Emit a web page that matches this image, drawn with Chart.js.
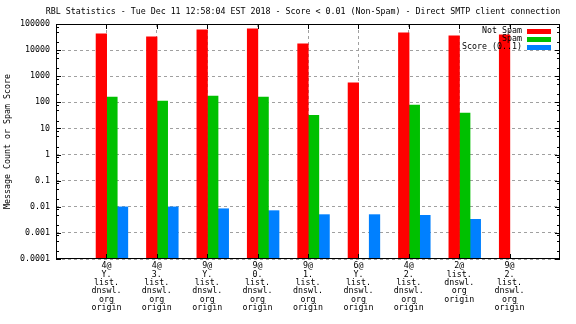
<!DOCTYPE html>
<html>
<head>
<meta charset="utf-8">
<script src="https://cdn.jsdelivr.net/npm/chart.js@4.4.0/dist/chart.umd.min.js"></script>
<style>
  html, body { margin: 0; padding: 0; background: #fff; }
  canvas { display: block; }
</style>
</head>
<body>
<canvas id="rblChart" width="576" height="324"></canvas>
<script>
// chart data
const titleText = "RBL Statistics - Tue Dec 11 12:58:04 EST 2018 - Score < 0.01 (Non-Spam) - Direct SMTP client connection";
const yAxisLabel = "Message Count or Spam Score";
const seriesNames = ["Not Spam", "Spam", "Score (0..1)"];

const categories = [
  ["4@", "Y.", "list.", "dnswl.", "org", "origin"],
  ["4@", "3.", "list.", "dnswl.", "org", "origin"],
  ["9@", "Y.", "list.", "dnswl.", "org", "origin"],
  ["9@", "0.", "list.", "dnswl.", "org", "origin"],
  ["9@", "1.", "list.", "dnswl.", "org", "origin"],
  ["6@", "Y.", "list.", "dnswl.", "org", "origin"],
  ["4@", "2.", "list.", "dnswl.", "org", "origin"],
  ["2@", "list.", "dnswl.", "org", "origin"],
  ["9@", "2.", "list.", "dnswl.", "org", "origin"]
];

const notSpam = [42100, 32300, 60000, 65500, 17400, 553, 46000, 35300, 38600];
const spam    = [160, 112, 174, 160, 32, null, 79, 39, null];
const score   = [0.0099, 0.0099, 0.0084, 0.0071, 0.0050, 0.0050, 0.0047, 0.0033, null];

const yTicks = [0.0001, 0.001, 0.01, 0.1, 1, 10, 100, 1000, 10000, 100000];
const yTickLabels = ["0.0001", "0.001", "0.01", "0.1", "1", "10", "100", "1000", "10000", "100000"];
const minorSteps = [2, 5, 8];

// look
const FONT = "'DejaVu Sans Mono', monospace";
const FSIZE = 8.3;
const colors = ["#ff0000", "#00c000", "#0080ff"];
const barOffsets = [-0.1, 0.11, 0.32];
const gridGray = "#a0a0a0";

const series = [notSpam, spam, score];

const datasets = series.map((vals, s) => ({
  label: seriesNames[s],
  data: vals.map((v, i) => ({ x: i + 1 + barOffsets[s], y: v })),
  backgroundColor: colors[s],
  borderWidth: 0,
  barThickness: 10.6,
  grouped: false
}));

// title, frame, inward ticks and the key, gnuplot style
const gnuplotDecor = {
  id: "gnuplotDecor",
  beforeDraw(chart) {
    const ctx = chart.ctx;
    const a = chart.chartArea;
    ctx.save();
    ctx.fillStyle = "#000";
    ctx.font = FSIZE + "px " + FONT;
    ctx.textAlign = "center";
    ctx.textBaseline = "middle";
    ctx.fillText(titleText, (a.left + a.right) / 2 - 5, 12);
    ctx.restore();
  },
  afterDatasetsDraw(chart) {
    const ctx = chart.ctx;
    const a = chart.chartArea;
    const xs = chart.scales.x, ys = chart.scales.y;
    ctx.save();
    ctx.strokeStyle = "#000";
    ctx.lineWidth = 1;
    ctx.beginPath();
    // category ticks, top and bottom
    for (let i = 1; i <= categories.length; i++) {
      const px = Math.round(xs.getPixelForValue(i)) + 0.5;
      ctx.moveTo(px, a.top); ctx.lineTo(px, a.top + 5);
      ctx.moveTo(px, a.bottom); ctx.lineTo(px, a.bottom - 5);
    }
    // log ticks, left and right
    yTicks.forEach((t, k) => {
      const py = Math.round(ys.getPixelForValue(t)) + 0.5;
      ctx.moveTo(a.left, py); ctx.lineTo(a.left + 5, py);
      ctx.moveTo(a.right, py); ctx.lineTo(a.right - 5, py);
      if (k < yTicks.length - 1) {
        minorSteps.forEach(m => {
          const my = Math.round(ys.getPixelForValue(t * m)) + 0.5;
          ctx.moveTo(a.left, my); ctx.lineTo(a.left + 3, my);
          ctx.moveTo(a.right, my); ctx.lineTo(a.right - 3, my);
        });
      }
    });
    ctx.stroke();
    ctx.strokeRect(Math.round(a.left) + 0.5, Math.round(a.top) + 0.5,
                   Math.round(a.right - a.left) - 1, Math.round(a.bottom - a.top) - 1);

    // key
    ctx.font = FSIZE + "px " + FONT;
    ctx.textAlign = "right";
    ctx.textBaseline = "middle";
    seriesNames.forEach((name, s) => {
      const y = a.top + 7 + s * 8;
      ctx.fillStyle = "#000";
      ctx.fillText(name, a.right - 38, y);
      ctx.fillStyle = colors[s];
      ctx.fillRect(a.right - 33, y - 2, 24, 5);
    });
    ctx.restore();
  }
};

new Chart(document.getElementById("rblChart"), {
  type: "bar",
  data: { datasets },
  options: {
    responsive: false,
    animation: false,
    devicePixelRatio: 1,
    layout: { padding: { top: 24, right: 16, left: 0, bottom: 0 } },
    plugins: {
      legend: { display: false },
      title: { display: false },
      tooltip: { enabled: false }
    },
    scales: {
      x: {
        type: "linear",
        min: 0,
        max: categories.length + 1,
        offset: false,
        grid: {
          offset: false,
          drawTicks: false,
          color: ctx => (ctx.tick && ctx.tick.value >= 1 && ctx.tick.value <= categories.length) ? gridGray : "rgba(0,0,0,0)",
          lineWidth: 1
        },
        border: { display: false, dash: [3, 3] },
        afterBuildTicks: scale => {
          scale.ticks = categories.map((c, i) => ({ value: i + 1 }));
        },
        afterFit: scale => { scale.height = 65; },
        ticks: {
          autoSkip: false,
          maxRotation: 0,
          padding: 3,
          color: "#000",
          font: { family: FONT, size: FSIZE, lineHeight: 1.0 },
          callback: v => categories[v - 1] || ""
        }
      },
      y: {
        type: "logarithmic",
        min: yTicks[0],
        max: yTicks[yTicks.length - 1],
        grid: { drawTicks: false, color: gridGray, lineWidth: 1 },
        border: { display: false, dash: [3, 3] },
        afterBuildTicks: scale => {
          scale.ticks = yTicks.map(v => ({ value: v }));
        },
        afterFit: scale => { scale.width = 56; },
        ticks: {
          padding: 6,
          color: "#000",
          font: { family: FONT, size: FSIZE },
          callback: v => yTickLabels[yTicks.indexOf(v)] ?? ""
        },
        title: {
          display: true,
          text: yAxisLabel,
          color: "#000",
          font: { family: FONT, size: FSIZE },
          padding: { top: 3, bottom: 0 }
        }
      }
    }
  },
  plugins: [gnuplotDecor]
});
</script>
</body>
</html>
